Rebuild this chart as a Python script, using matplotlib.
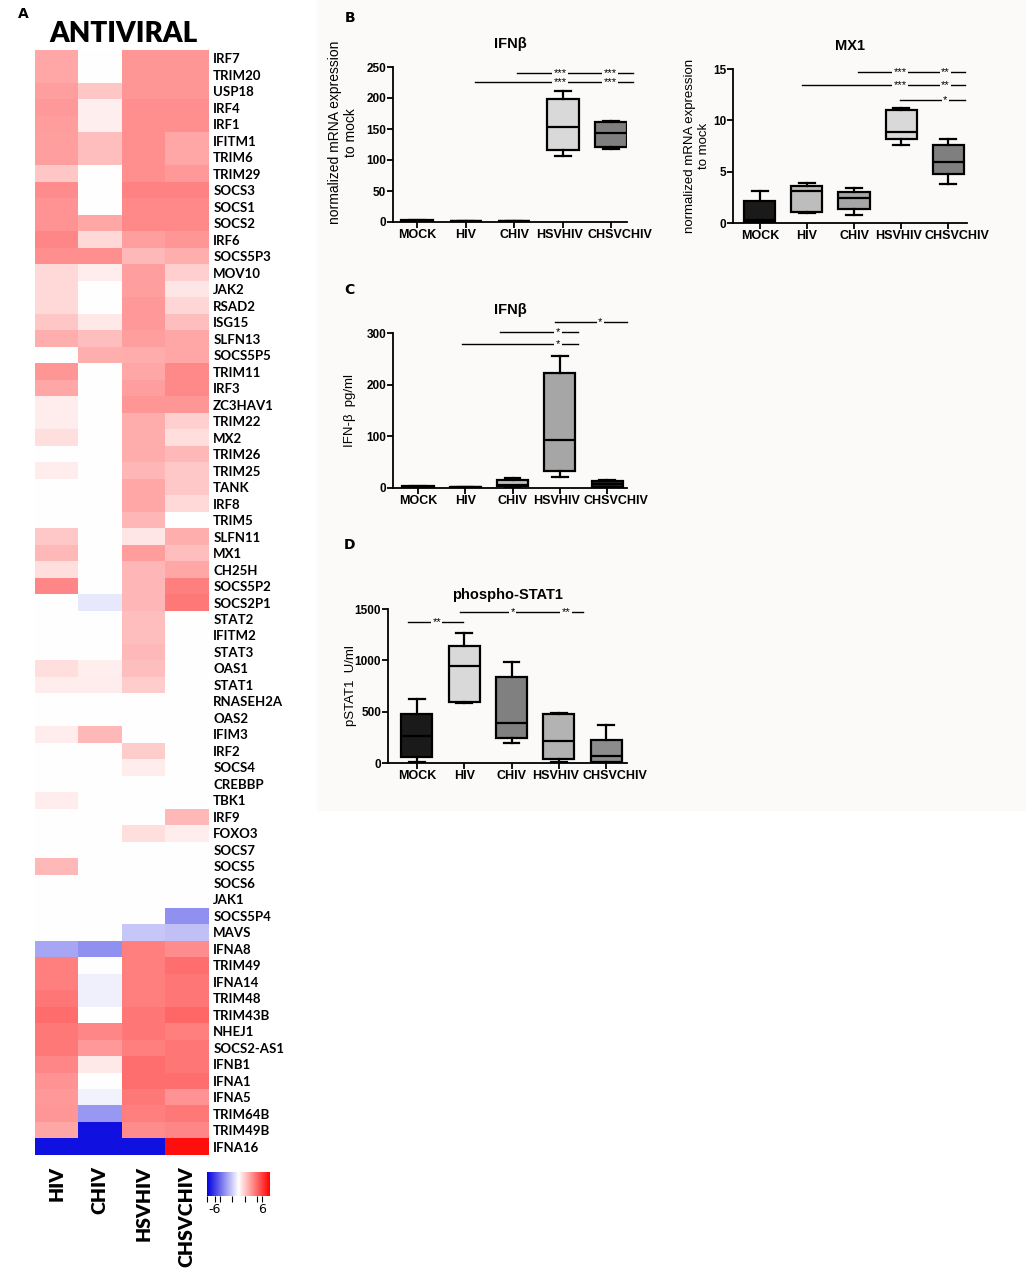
import matplotlib
matplotlib.use("Agg")
import matplotlib.pyplot as plt
import numpy as np
from matplotlib.colors import LinearSegmentedColormap
from matplotlib.patches import Rectangle
from matplotlib.transforms import ScaledTranslation

W, H = 1026, 1272
BG = '#fbfaf8'

# ---- heatmap data (log2 fold change) ----
genes = ['IRF7', 'TRIM20', 'USP18', 'IRF4', 'IRF1', 'IFITM1', 'TRIM6', 'TRIM29',
         'SOCS3', 'SOCS1', 'SOCS2', 'IRF6', 'SOCS5P3', 'MOV10', 'JAK2', 'RSAD2',
         'ISG15', 'SLFN13', 'SOCS5P5', 'TRIM11', 'IRF3', 'ZC3HAV1', 'TRIM22', 'MX2',
         'TRIM26', 'TRIM25', 'TANK', 'IRF8', 'TRIM5', 'SLFN11', 'MX1', 'CH25H',
         'SOCS5P2', 'SOCS2P1', 'STAT2', 'IFITM2', 'STAT3', 'OAS1', 'STAT1', 'RNASEH2A',
         'OAS2', 'IFIM3', 'IRF2', 'SOCS4', 'CREBBP', 'TBK1', 'IRF9', 'FOXO3',
         'SOCS7', 'SOCS5', 'SOCS6', 'JAK1', 'SOCS5P4', 'MAVS', 'IFNA8', 'TRIM49',
         'IFNA14', 'TRIM48', 'TRIM43B', 'NHEJ1', 'SOCS2-AS1', 'IFNB1', 'IFNA1', 'IFNA5',
         'TRIM64B', 'TRIM49B', 'IFNA16']
conditions = ['HIV', 'CHIV', 'HSVHIV', 'CHSVCHIV']
hiv = [2.8, 2.8, 3.0, 3.2, 3.1, 3.0, 3.0, 1.8, 3.6, 3.4, 3.4, 3.8, 3.5, 1.2, 1.2, 1.2,
       1.8, 2.5, 0.0, 3.3, 2.8, 0.6, 0.6, 1.0, 0.0, 0.6, 0.0, 0.0, 0.0, 1.7, 2.2, 1.0,
       3.8, 0.0, 0.0, 0.0, 0.0, 1.0, 0.6, 0.0, 0.0, 0.6, 0.0, 0.0, 0.0, 0.6, 0.0, 0.0,
       0.0, 2.2, 0.0, 0.0, 0.0, 0.0, -2.8, 4.0, 4.0, 4.3, 4.6, 4.2, 4.2, 3.8, 3.4, 3.2,
       3.3, 2.8, -7.5]
chiv = [0.0, 0.0, 1.8, 0.5, 0.5, 2.0, 2.0, 0.0, 0.0, 0.0, 2.8, 1.2, 3.5, 0.6, 0.0, 0.0,
        0.7, 2.0, 2.5, 0.0, 0.0, 0.0, 0.0, 0.0, 0.0, 0.0, 0.0, 0.0, 0.0, 0.0, 0.0, 0.0,
        0.0, -0.7, 0.0, 0.0, 0.0, 0.5, 0.6, 0.0, 0.0, 2.2, 0.0, 0.0, 0.0, 0.0, 0.0, 0.0,
        0.0, 0.0, 0.0, 0.0, 0.0, 0.0, -3.5, 0.0, -0.5, -0.5, 0.0, 3.8, 3.2, 0.7, 0.0, -0.4,
        -3.2, -7.5, -7.5]
hsvhiv = [3.3, 3.3, 3.3, 3.5, 3.5, 3.5, 3.5, 3.5, 3.9, 3.7, 3.7, 3.0, 2.2, 3.0, 3.0, 3.2,
          3.2, 3.0, 2.6, 2.8, 3.0, 3.3, 2.6, 2.6, 2.6, 2.3, 2.8, 2.8, 2.3, 0.8, 3.1, 2.3,
          2.3, 2.3, 2.0, 2.0, 2.2, 2.0, 1.6, 0.0, 0.0, 0.0, 1.6, 0.6, 0.0, 0.0, 0.0, 1.0,
          0.0, 0.0, 0.0, 0.0, 0.0, -1.8, 4.0, 4.0, 4.0, 4.0, 4.3, 4.3, 4.0, 4.5, 4.5, 4.2,
          4.0, 3.6, -7.5]
chsvchiv = [3.3, 3.3, 3.3, 3.5, 3.5, 2.8, 2.8, 3.2, 3.9, 3.7, 3.7, 3.3, 2.5, 1.5, 0.8, 1.3,
            2.0, 2.8, 2.8, 3.7, 3.7, 3.3, 1.5, 1.0, 2.2, 1.7, 1.7, 1.2, 0.0, 2.5, 2.0, 2.8,
            4.0, 4.2, 0.0, 0.0, 0.0, 0.0, 0.0, 0.0, 0.0, 0.0, 0.0, 0.0, 0.0, 0.0, 2.2, 0.6,
            0.0, 0.0, 0.0, 0.0, -3.5, -2.0, 3.6, 4.5, 4.3, 4.3, 4.8, 4.0, 4.3, 4.3, 4.5, 3.4,
            4.2, 3.8, 7.5]

# ---- box plot data: whislo, q1, med, q3, whishi ----
groups = ['MOCK', 'HIV', 'CHIV', 'HSVHIV', 'CHSVCHIV']
ifnb_mrna = [[0.5, 1.0, 2.0, 3.0, 4.0], [0.8, 0.9, 1.0, 1.1, 1.2], [0.8, 0.9, 1.0, 1.1, 1.2],
             [107, 116, 154, 199, 211], [117, 121, 144, 161, 163]]
mx1_mrna = [[0.0, 0.1, 0.3, 2.1, 3.1], [0.95, 1.1, 3.15, 3.65, 3.85], [0.8, 1.4, 2.4, 3.0, 3.4],
            [7.55, 8.15, 8.85, 11.05, 11.2], [3.8, 4.75, 5.9, 7.6, 8.2]]
ifnb_prot = [[0.5, 1, 2, 3, 4], [0.3, 0.6, 1, 1.5, 2], [1, 3, 6, 16, 19],
             [21, 32, 92, 223, 255], [1, 2, 8, 13, 15]]
pstat1 = [[10, 58, 260, 477, 619], [581, 597, 942, 1139, 1268], [194, 248, 394, 839, 984],
          [6, 39, 210, 481, 490], [0, 10, 71, 226, 374]]

ifnb_mrna_fill = ['#1a1a1a', '#bfbfbf', '#a0a0a0', '#d9d9d9', '#7f7f7f']
mx1_fill = ['#1a1a1a', '#bdbdbd', '#a6a6a6', '#d9d9d9', '#7f7f7f']
ifnb_prot_fill = ['#1a1a1a', '#1a1a1a', '#c0c0c0', '#a6a6a6', '#262626']
pstat1_fill = ['#1a1a1a', '#d9d9d9', '#808080', '#b3b3b3', '#8c8c8c']

# significance bars: (y, x start, x end, [(x, stars), ...])
ifnb_mrna_sig = [(241, 3.05, 5.45, [(3.95, '***'), (4.98, '***')]),
                 (226, 2.2, 5.45, [(3.95, '***'), (4.98, '***')])]
mx1_sig = [(14.67, 3.09, 5.36, [(3.98, '***'), (4.94, '**')]),
           (13.4, 1.9, 5.36, [(3.98, '***'), (4.94, '**')]),
           (12.0, 3.98, 5.36, [(4.94, '*')])]
ifnb_prot_sig = [(322, 3.9, 5.42, [(4.85, '*')]),
                 (301, 2.74, 4.39, [(3.96, '*')]),
                 (279, 1.93, 4.39, [(3.96, '*')])]
pstat1_sig = [(1468, 1.91, 4.51, [(3.03, '*'), (4.15, '**')]),
              (1371, 0.81, 1.97, [(1.42, '**')])]

fig = plt.figure(figsize=(W / 100, H / 100), dpi=100)
fig.patches.append(Rectangle((317 / W, 1 - 810 / H), 1 - 317 / W, 810 / H,
                             transform=fig.transFigure, color=BG, zorder=-10))


def fax(x0, y0, x1, y1):
    # pixel box -> figure axes
    return fig.add_axes([x0 / W, 1 - y1 / H, (x1 - x0) / W, (y1 - y0) / H])


# ---------------- A: heatmap ----------------
cmap = LinearSegmentedColormap.from_list('bwr_', ['#0000e0', '#ffffff', '#ff0000'])
mat = np.array([hiv, chiv, hsvhiv, chsvchiv]).T
axh = fax(35, 50, 209, 1155)
im = axh.imshow(mat, cmap=cmap, vmin=-8, vmax=8, aspect='auto', interpolation='nearest')
for s in axh.spines.values():
    s.set_visible(False)
axh.yaxis.tick_right()
axh.set_yticks(range(len(genes)))
axh.set_yticklabels(genes, family='Lato', fontweight='bold', fontsize=9.5)
axh.tick_params(axis='y', length=0, pad=3)
axh.set_xticks(range(len(conditions)))
axh.set_xticklabels(conditions, rotation=90, family='Lato', fontweight='heavy',
                    fontsize=14, va='top')
axh.tick_params(axis='x', length=0, pad=8)
fig.text(123 / W, 1 - 34 / H, 'ANTIVIRAL', family='Lato', fontweight='heavy',
         fontsize=20, ha='center', va='center')

cax = fax(207, 1172, 270, 1196)
cb = fig.colorbar(im, cax=cax, orientation='horizontal')
cb.outline.set_visible(False)
cb.set_ticks([-6, 6], labels=['-6', '6'])
cb.set_ticks([-8, -4.8, -1.6, 1.6, 4.8], minor=True)
cax.tick_params(which='both', length=4, width=0.8, labelsize=9, pad=1)

fig.text(18 / W, 1 - 14 / H, 'A', fontsize=10, fontweight='bold', va='center')
fig.text(345 / W, 1 - 18 / H, 'B', fontsize=10, fontweight='bold', va='center')
fig.text(344 / W, 1 - 290 / H, 'C', fontsize=10, fontweight='bold', va='center')
fig.text(344 / W, 1 - 545 / H, 'D', fontsize=10, fontweight='bold', va='center')

plt.rcParams['font.family'] = ['Liberation Sans', 'DejaVu Sans']
label_shift = [0, 0, 0, -3, 9]  # px, GraphPad nudges crowded labels apart


def boxpanel(ax, data, fills, sigs, title, ylabel, ylim, yticks, xlim, lab_x,
             lab_y=0.5, tpad=14, lab_fs=9.5):
    stats = [dict(whislo=d[0], q1=d[1], med=d[2], q3=d[3], whishi=d[4], fliers=[]) for d in data]
    bp = ax.bxp(stats, positions=range(1, 6), widths=0.66, patch_artist=True,
                showfliers=False,
                boxprops=dict(linewidth=1.6, edgecolor='black'),
                whiskerprops=dict(linewidth=1.6),
                capprops=dict(linewidth=1.6),
                medianprops=dict(color='black', linewidth=1.6))
    for patch, c in zip(bp['boxes'], fills):
        patch.set_facecolor(c)
    ax.set_facecolor('none')
    ax.set_xlim(*xlim)
    ax.set_ylim(*ylim)
    ax.set_yticks(yticks)
    ax.set_xticks(range(1, 6))
    ax.set_xticklabels(groups)
    for s in ['top', 'right']:
        ax.spines[s].set_visible(False)
    for s in ['left', 'bottom']:
        ax.spines[s].set_linewidth(1.3)
    ax.tick_params(length=4, width=1.3, pad=1)
    for t, dx in zip(ax.get_xticklabels(), label_shift):
        t.set_fontweight('bold')
        t.set_fontsize(9)
        t.set_transform(t.get_transform() + ScaledTranslation(dx / 100, 0, fig.dpi_scale_trans))
    for t in ax.get_yticklabels():
        t.set_fontweight('bold')
        t.set_fontsize(8.5)
    ax.set_title(title, fontsize=10.5, fontweight='bold', pad=tpad)
    ax.set_ylabel(ylabel, fontsize=lab_fs)
    ax.yaxis.set_label_coords(lab_x, lab_y)
    for y, x0, x1, marks in sigs:
        ax.plot([x0, x1], [y, y], color='black', lw=1.0, clip_on=False)
        for x, lab in marks:
            ax.text(x, y, lab, ha='center', va='center', fontsize=8, clip_on=False,
                    bbox=dict(facecolor=BG, edgecolor='none', pad=1.0))


ax1 = fax(393, 67, 627, 222)
boxpanel(ax1, ifnb_mrna, ifnb_mrna_fill, ifnb_mrna_sig, 'IFNβ',
         'normalized mRNA expression\nto mock', (0, 250), range(0, 251, 50),
         (0.5, 5.33), -0.15, 0.58, lab_fs=10)

ax2 = fax(733, 69, 967, 223)
boxpanel(ax2, mx1_mrna, mx1_fill, mx1_sig, 'MX1',
         'normalized mRNA expression\nto mock', (0, 15), range(0, 16, 5),
         (0.43, 5.4), -0.1)

ax3 = fax(393, 333, 627, 488)
boxpanel(ax3, ifnb_prot, ifnb_prot_fill, ifnb_prot_sig, 'IFNβ',
         'IFN-β  pg/ml', (0, 300), range(0, 301, 100), (0.47, 5.42), -0.16)

ax4 = fax(388, 609, 627, 763)
boxpanel(ax4, pstat1, pstat1_fill, pstat1_sig, 'phospho-STAT1',
         'pSTAT1  U/ml', (0, 1500), range(0, 1501, 500), (0.39, 5.44), -0.13,
         tpad=7)

fig.savefig('out.png', dpi=100)
